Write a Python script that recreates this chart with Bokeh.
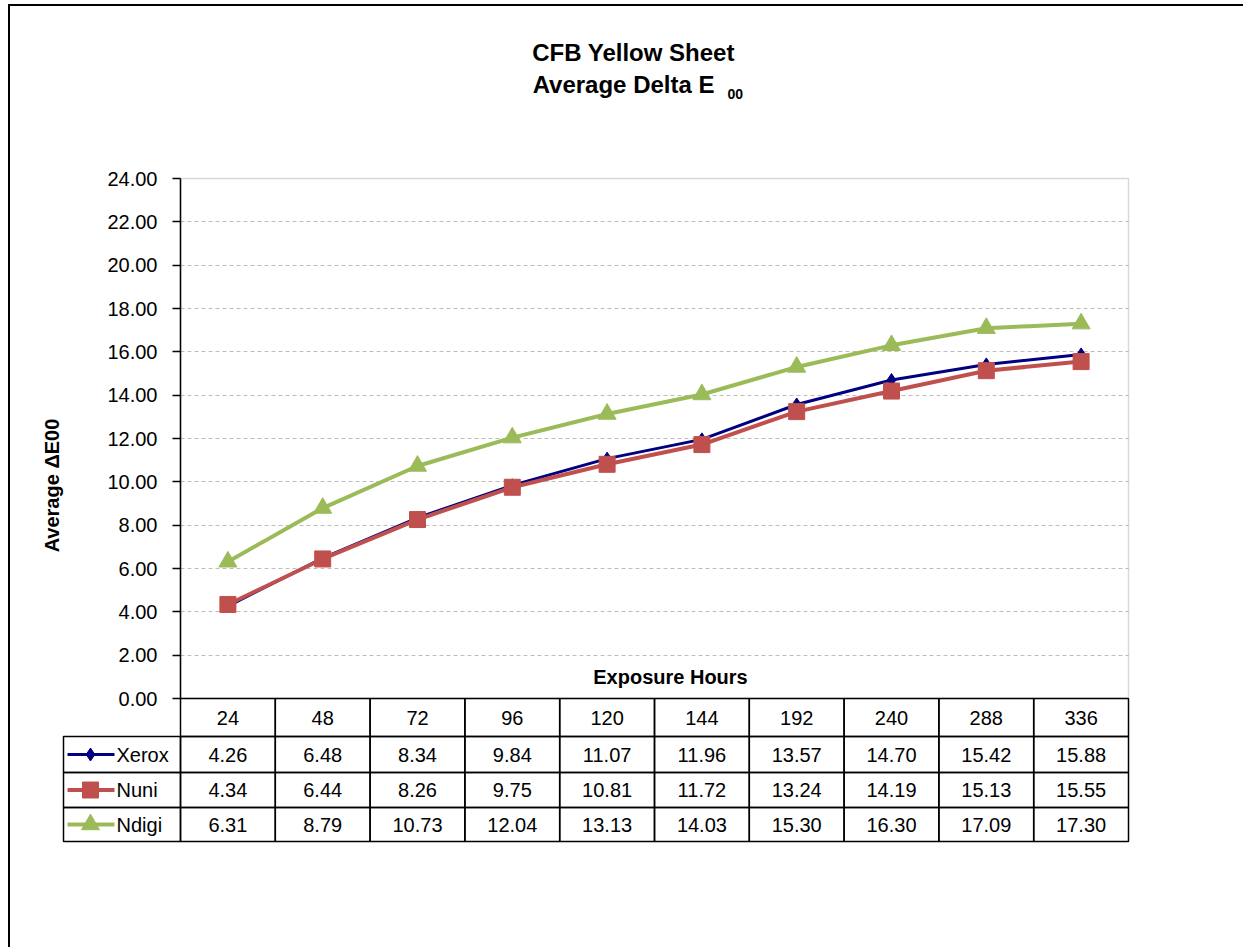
import numpy as np
from bokeh.plotting import figure
from bokeh.models import Range1d, FixedTicker, PrintfTickFormatter, Label, BoxAnnotation
from bokeh.layouts import column
from bokeh.embed import file_html
from bokeh.resources import INLINE
from bokeh.core.properties import value

# ---------------- data ----------------
hours = ["24", "48", "72", "96", "120", "144", "192", "240", "288", "336"]
xerox = [4.26, 6.48, 8.34, 9.84, 11.07, 11.96, 13.57, 14.70, 15.42, 15.88]
nuni = [4.34, 6.44, 8.26, 9.75, 10.81, 11.72, 13.24, 14.19, 15.13, 15.55]
ndigi = [6.31, 8.79, 10.73, 12.04, 13.13, 14.03, 15.30, 16.30, 17.09, 17.30]
series_names = ["Xerox", "Nuni", "Ndigi"]
y_ticks = [0, 2, 4, 6, 8, 10, 12, 14, 16, 18, 20, 22, 24]

# ---------------- styles / layout (page pixels) ----------------
FONT = "Liberation Sans"
colors = ["#000080", "#C0504D", "#9BBB59"]
markers = ["diamond", "square", "triangle"]
line_widths = [3, 4, 4]
marker_sizes = [13, 16, 18]

CX, CY = 10, 6           # canvas origin on the page
W, H = 1233, 941         # canvas size (to the window's right/bottom edge)
PL, PR = 180, 1128       # plot area left/right
PT, PB = 178, 698        # plot area top/bottom
TL = 63                  # table left edge
ROWS_PX = [698, 736, 772, 807, 841]   # table row boundaries
YMAX = 24
n = len(hours)
ppu = (PR - PL) / n
ppy = (PB - PT) / YMAX


def px_x(px):
    return (px - PL) / ppu


def px_y(py):
    return (PB - py) / ppy


xs = np.arange(n) + 0.5
series = [xerox, nuni, ndigi]

p = figure(width=W, height=H,
           x_range=Range1d(px_x(CX), px_x(CX + W)),
           y_range=Range1d(px_y(CY + H), px_y(CY)),
           x_axis_type=None, output_backend="svg", toolbar_location=None,
           min_border_left=0, min_border_right=0, min_border_top=0, min_border_bottom=0)
p.outline_line_color = None
p.background_fill_color = "white"
p.border_fill_color = "white"

# plot-area border (grey)
p.add_layout(BoxAnnotation(left=0, right=n, bottom=0, top=YMAX, fill_color=None,
                           line_color="#808080", line_width=1.5, level="underlay"))

# y axis at the plot-area edge
ax = p.yaxis[0]
ax.fixed_location = 0
ax.bounds = (0, YMAX)
ax.ticker = FixedTicker(ticks=y_ticks)
ax.formatter = PrintfTickFormatter(format="%.2f")
ax.axis_line_color = "black"
ax.axis_line_width = 1.5
ax.major_tick_line_color = "black"
ax.major_tick_line_width = 1.5
ax.major_tick_out = 8
ax.major_tick_in = 0
ax.minor_tick_line_color = None
ax.major_label_standoff = 15
ax.major_label_text_font = FONT
ax.major_label_text_font_size = "20px"
ax.major_label_text_color = "black"

g = p.ygrid[0]
g.ticker = FixedTicker(ticks=[t for t in y_ticks if 0 < t < YMAX])
g.grid_line_color = "#BDBDBD"
g.grid_line_dash = "4 3"
g.grid_line_width = 1
if "cross_bounds" in g.properties():
    g.cross_bounds = (0, n)
else:
    g.visible = False
    gt = [t for t in y_ticks if 0 < t < YMAX]
    p.segment(x0=[0] * len(gt), x1=[n] * len(gt), y0=gt, y1=gt, line_color="#BDBDBD",
              line_dash="4 3", line_width=1)

# series
for vals, col, mk, lw, sz in zip(series, colors, markers, line_widths, marker_sizes):
    p.line(xs, vals, line_color=col, line_width=lw)
    p.scatter(xs, vals, marker=mk, size=sz, fill_color=col, line_color=col)

# titles / labels
p.add_layout(Label(x=px_x(633), y=px_y(52), text="CFB Yellow Sheet", text_font=FONT,
                   text_font_size="24px", text_font_style="bold", text_align="center",
                   text_baseline="middle", text_color="black"))
p.add_layout(Label(x=px_x(714), y=px_y(84), text="Average Delta E", text_font=FONT,
                   text_font_size="24px", text_font_style="bold", text_align="right",
                   text_baseline="middle", text_color="black"))
p.add_layout(Label(x=px_x(727), y=px_y(93), text="00", text_font=FONT,
                   text_font_size="14px", text_font_style="bold", text_align="left",
                   text_baseline="middle", text_color="black"))
p.add_layout(Label(x=px_x(51), y=px_y(485), text="Average ΔE00", text_font=FONT,
                   text_font_size="20px", text_font_style="bold", text_align="center",
                   text_baseline="middle", angle=np.pi / 2, text_color="black"))
p.add_layout(Label(x=px_x(670), y=px_y(676), text="Exposure Hours", text_font=FONT,
                   text_font_size="20px", text_font_style="bold", text_align="center",
                   text_baseline="middle", text_color="black"))

# ---------------- data table ----------------
ry = [px_y(v) for v in ROWS_PX]
lcol = px_x(TL)
left, right, top, bottom = [], [], [], []
for r in range(len(series) + 1):
    if r > 0:
        left.append(lcol); right.append(0); top.append(ry[r]); bottom.append(ry[r + 1])
    for i in range(n):
        left.append(i); right.append(i + 1); top.append(ry[r]); bottom.append(ry[r + 1])
p.quad(left=left, right=right, top=top, bottom=bottom, fill_color=None,
       line_color="black", line_width=1.5)

rc = [(ry[r] + ry[r + 1]) / 2 for r in range(len(ry) - 1)]
p.text(x=xs, y=[rc[0]] * n, text=hours, text_font=value(FONT), text_font_size="20px",
       text_align="center", text_baseline="middle", text_color="black")
for r, (vals, name, col, mk, lw, sz) in enumerate(
        zip(series, series_names, colors, markers, line_widths, marker_sizes), start=1):
    p.text(x=xs, y=[rc[r]] * n, text=[f"{v:.2f}" for v in vals], text_font=value(FONT),
           text_font_size="20px", text_align="center", text_baseline="middle",
           text_color="black")
    p.segment(x0=[px_x(67)], y0=[rc[r]], x1=[px_x(114)], y1=[rc[r]],
              line_color=col, line_width=lw)
    p.scatter(x=[px_x(90)], y=[rc[r]], marker=mk, size=sz, fill_color=col, line_color=col)
    p.text(x=[px_x(116)], y=[rc[r]], text=[name], text_font=value(FONT),
           text_font_size="20px", text_align="left", text_baseline="middle",
           text_color="black")

layout = column(p, styles={"position": "fixed", "left": "8px", "top": "4px",
                           "overflow": "hidden",
                           "border-left": "2px solid #000", "border-top": "2px solid #000",
                           "border-right": "none", "border-bottom": "none",
                           "background-color": "white"})

open("out.html", "w").write(file_html(layout, INLINE))
